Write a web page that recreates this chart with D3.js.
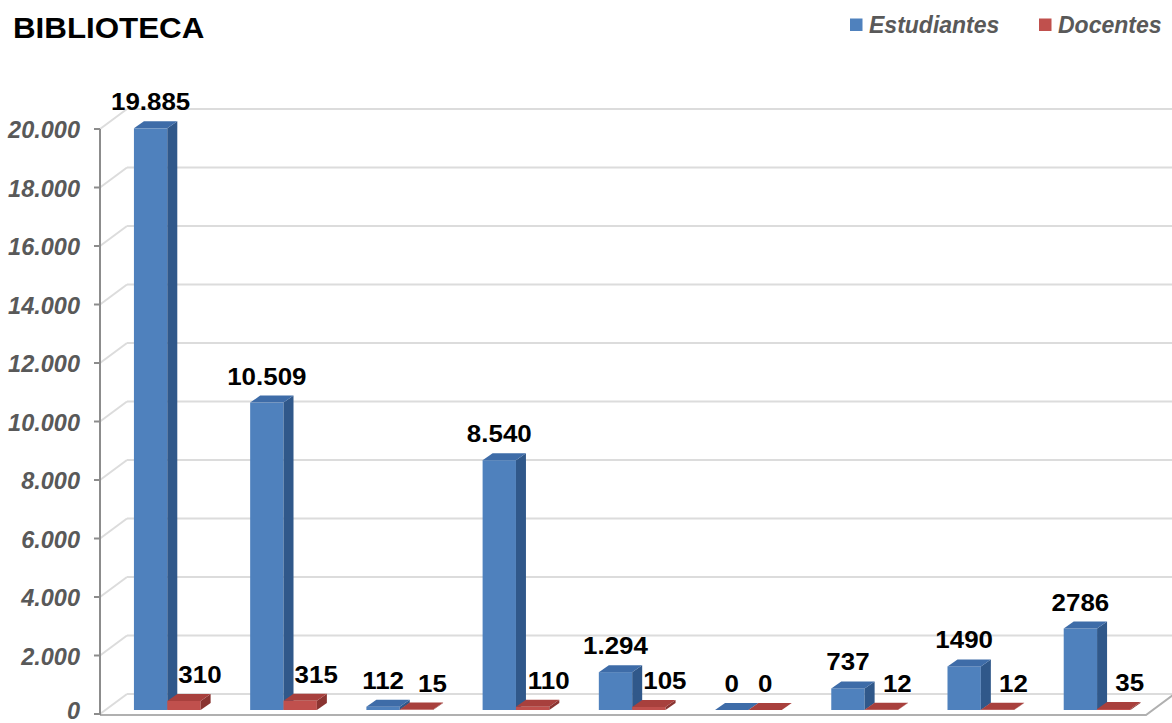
<!DOCTYPE html>
<html><head><meta charset="utf-8">
<script src="https://cdn.jsdelivr.net/npm/d3@7"></script>
<style>
html,body{margin:0;padding:0;background:#fff;}
svg{display:block;font-family:"Liberation Sans",Arial,sans-serif;}
</style></head>
<body>
<svg id="chart" width="1172" height="723"></svg>
<script>
const categories = ["1","2","3","4","5","6","7","8","9"];
const estudiantes = [19885, 10509, 112, 8540, 1294, 0, 737, 1490, 2786];
const docentes = [310, 315, 15, 110, 105, 0, 12, 12, 35];
const estudiantesLabels = ["19.885","10.509","112","8.540","1.294","0","737","1490","2786"];
const docentesLabels = ["310","315","15","110","105","0","12","12","35"];
const yTicks = [0,2000,4000,6000,8000,10000,12000,14000,16000,18000,20000];
const yTickLabels = ["0","2.000","4.000","6.000","8.000","10.000","12.000","14.000","16.000","18.000","20.000"];
const seriesNames = ["Estudiantes","Docentes"];

(function(){
const svg = d3.select("#chart");
const W = 1172;
const pLeft = 100, pRight = 1146, pBottom = 714, pTop = 129;
const depthX = 27, depthY = -20;      // back wall offset
const barDX = 10, barDY = -7;         // bar depth

const y = d3.scaleLinear().domain([0,20000]).range([pBottom, pTop]);
const x = d3.scaleBand().domain(categories).range([pLeft, pRight]);
const bw = x.bandwidth();

const colors = {
  Estudiantes: {front:"#4f81bd", top:"#3e6ca8", side:"#30588a"},
  Docentes: {front:"#c0504d", top:"#a8403d", side:"#8a3431"}
};

// back wall gridlines + side wall diagonals
const grid = svg.append("g");
yTicks.forEach(v => {
  const yy = y(v);
  grid.append("line").attr("x1", pLeft).attr("y1", yy).attr("x2", pLeft+depthX).attr("y2", yy+depthY)
    .attr("stroke","#dcdcdc").attr("stroke-width",2);
  grid.append("line").attr("x1", pLeft+depthX).attr("y1", yy+depthY).attr("x2", W+5).attr("y2", yy+depthY)
    .attr("stroke","#dcdcdc").attr("stroke-width",2);
});

// floor
const fy = y(0) + 1;
svg.append("path")
  .attr("d", `M${pLeft},${fy} L${pRight},${fy} L${pRight+depthX},${fy+depthY}`)
  .attr("fill","none").attr("stroke","#b0b0b0").attr("stroke-width",2);

// axis
const axis = svg.append("g");
axis.append("line").attr("x1",pLeft).attr("x2",pLeft).attr("y1",y(20000)).attr("y2",fy)
  .attr("stroke","#8c8c8c").attr("stroke-width",2);
yTicks.forEach((v,i) => {
  axis.append("line").attr("x1",pLeft-6).attr("x2",pLeft).attr("y1",y(v)).attr("y2",y(v))
    .attr("stroke","#8c8c8c").attr("stroke-width",2);
  axis.append("text").attr("x",80).attr("y",Math.min(y(v)+1, 711)).attr("text-anchor","end")
    .attr("dominant-baseline","central")
    .attr("font-size","23.5px").attr("font-weight","bold").attr("font-style","italic")
    .attr("fill","#595959").text(yTickLabels[i]);
});

// bars
const barBase = -4; // bar plane offset from front axis plane
function drawBar(g, x0, w, v, c) {
  const yb = y(0) + barBase;
  const yt = y(v) + barBase;
  const x1 = x0 + w;
  g.append("rect").attr("x",x0).attr("y",yt).attr("width",w).attr("height",Math.max(0,yb-yt)).attr("fill",c.front);
  g.append("path").attr("d",`M${x1},${yt} L${x1+barDX},${yt+barDY} L${x1+barDX},${yb+barDY} L${x1},${yb} Z`).attr("fill",c.side);
  g.append("path").attr("d",`M${x0},${yt} L${x0+barDX},${yt+barDY} L${x1+barDX},${yt+barDY} L${x1},${yt} Z`).attr("fill",c.top);
}
const bars = svg.append("g");
const labels = svg.append("g");
categories.forEach((cat,i) => {
  const bx = x(cat) + bw*0.292;
  const w = bw*0.287;
  drawBar(bars, bx, w, estudiantes[i], colors.Estudiantes);
  drawBar(bars, bx+w, w, docentes[i], colors.Docentes);
  const ly1 = y(estudiantes[i]) + barBase - 18;
  labels.append("text").attr("transform",`translate(${bx+w/2},${ly1}) scale(1.08,1)`)
    .attr("text-anchor","middle").attr("font-size","24px").attr("font-weight","bold")
    .attr("fill","#000").text(estudiantesLabels[i]);
  const ly2 = y(docentes[i]) + barBase - 18;
  const rx = docentes[i] === 0 ? bx+w+w/2 : bx+w+w/2+16;
  labels.append("text").attr("transform",`translate(${rx},${ly2}) scale(1.08,1)`)
    .attr("text-anchor","middle").attr("font-size","24px").attr("font-weight","bold")
    .attr("fill","#000").text(docentesLabels[i]);
});

// title
svg.append("text").attr("transform","translate(13,38) scale(1.08,1)")
  .attr("font-size","29px").attr("font-weight","bold").attr("fill","#000").text("BIBLIOTECA");

// legend
const legend = svg.append("g");
const legX = [850, 1039];
seriesNames.forEach((s,i) => {
  legend.append("rect").attr("x",legX[i]).attr("y",18.5).attr("width",12.5).attr("height",12.5).attr("fill",colors[s].front);
  legend.append("text").attr("x",legX[i]+19).attr("y",33).attr("font-size","23px")
    .attr("font-weight","bold").attr("font-style","italic").attr("fill","#595959").text(s);
});
})();
</script>
</body></html>
